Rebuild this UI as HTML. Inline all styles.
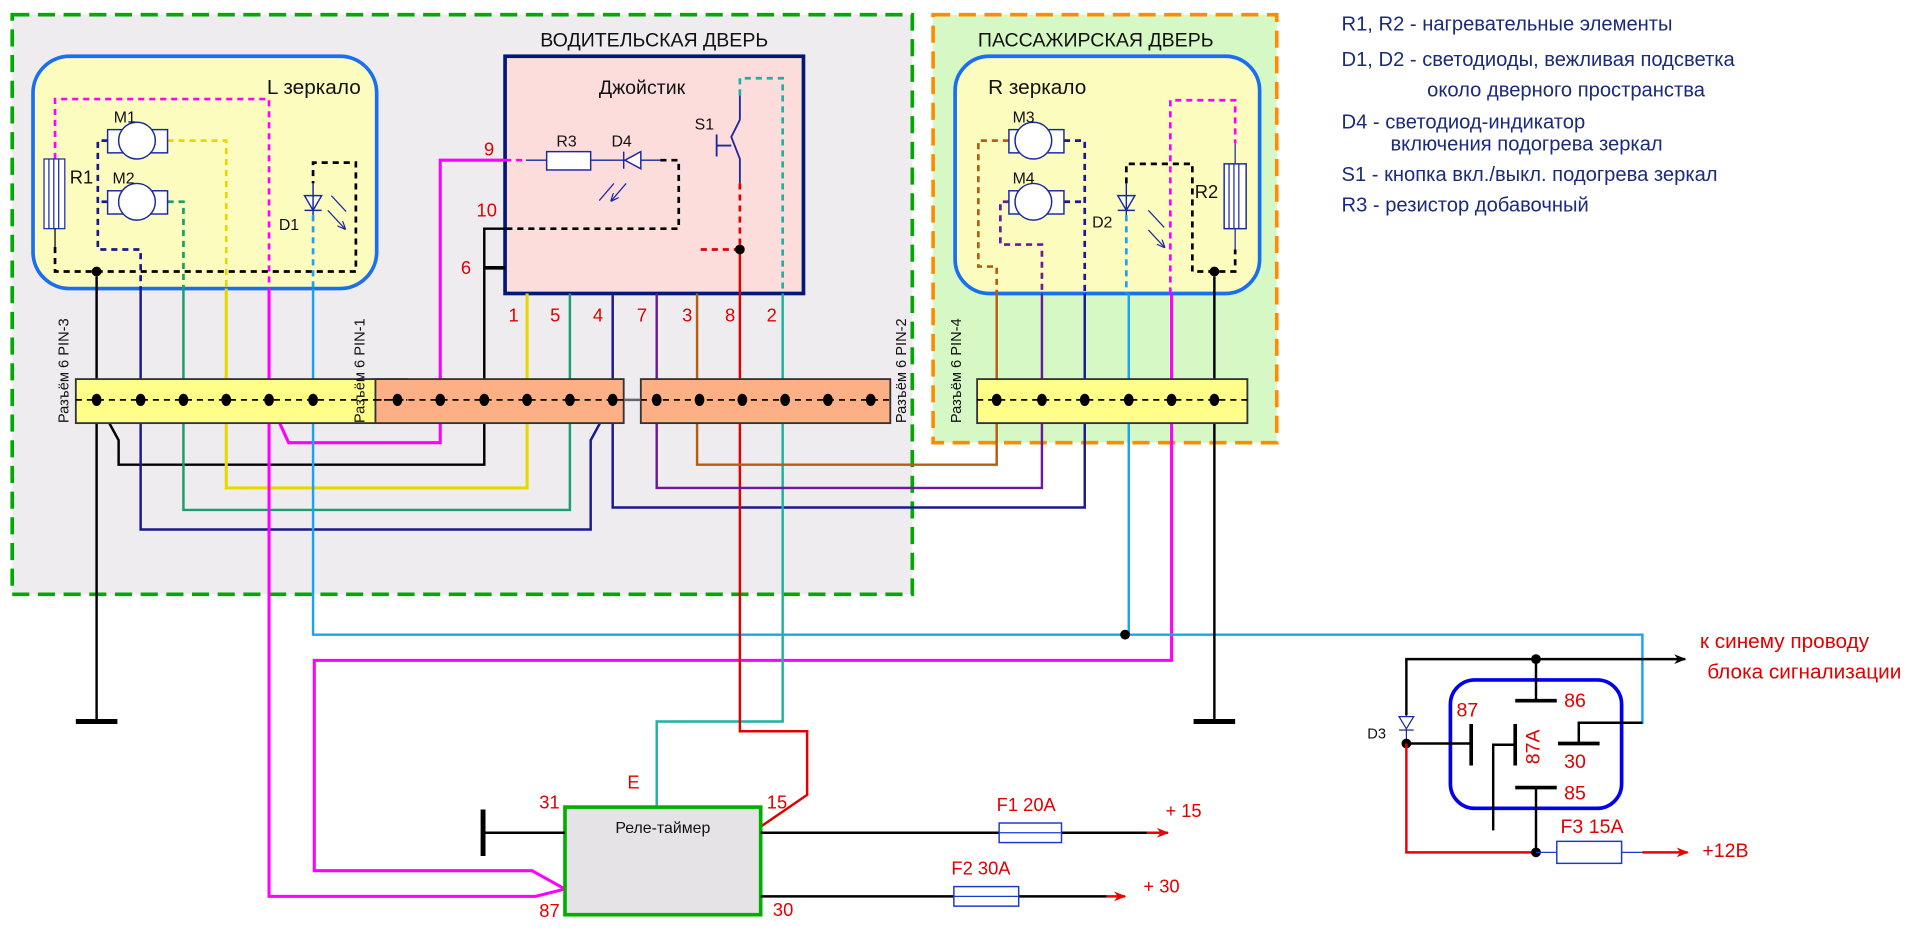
<!DOCTYPE html>
<html><head><meta charset="utf-8"><style>
html,body{margin:0;padding:0;background:#fff;overflow:hidden}
svg{display:block}
text{font-family:"Liberation Sans",sans-serif}
</style></head><body>
<svg width="1920" height="930" viewBox="0 0 1570 760.5" preserveAspectRatio="none" xmlns="http://www.w3.org/2000/svg">
<defs>
<marker id="ab" markerWidth="10" markerHeight="8" refX="9" refY="4" orient="auto" markerUnits="userSpaceOnUse"><path d="M0,0 L10,4 L0,8 L3,4z" fill="#000"/></marker>
<marker id="ar" markerWidth="10" markerHeight="8" refX="9" refY="4" orient="auto" markerUnits="userSpaceOnUse"><path d="M0,0 L10,4 L0,8 L3,4z" fill="#e00"/></marker>
<marker id="an" markerWidth="7" markerHeight="6" refX="6" refY="3" orient="auto" markerUnits="userSpaceOnUse"><path d="M0,0 L7,3 L0,6" fill="none" stroke="#1a2a9c" stroke-width="1"/></marker>
</defs>

<rect x="10" y="12" width="736" height="474" fill="#eeecef" stroke="#00aa00" stroke-width="3" stroke-dasharray="14,7"/>
<rect x="763" y="12" width="281" height="350" fill="#d5f8c5" stroke="#ff8c00" stroke-width="3" stroke-dasharray="14,7"/>
<text x="535" y="38" font-size="16" text-anchor="middle" fill="#111">ВОДИТЕЛЬСКАЯ ДВЕРЬ</text>
<text x="896" y="38" font-size="16" text-anchor="middle" fill="#111">ПАССАЖИРСКАЯ ДВЕРЬ</text>

<rect x="27" y="46" width="281" height="190" rx="30" fill="#fdfcbf" stroke="#1a6ff0" stroke-width="3"/>
<text x="295" y="77" font-size="17" text-anchor="end" fill="#111">L зеркало</text>
<rect x="781" y="46" width="249" height="194" rx="28" fill="#fdfcbf" stroke="#1a6ff0" stroke-width="3"/>
<text x="808" y="77" font-size="17" fill="#111">R зеркало</text>

<rect x="413" y="46" width="244" height="194" fill="#fddcdc" stroke="#001a73" stroke-width="3"/>
<text x="525" y="77" font-size="16" text-anchor="middle" fill="#111">Джойстик</text>

<g fill="none" stroke-width="2">
<path d="M79,226 V590" stroke="#000"/>
<path d="M79,327 L97,360 V380 H396 V187 H413" stroke="#000"/>
<path d="M396,219 H413" stroke="#000" stroke-width="3"/>
<path d="M115,236 V433 H483 V360 L501,327" stroke="#1a1a8c"/>
<path d="M501,240 V415 H887 V240" stroke="#1a1a8c"/>
<path d="M150,236 V417 H466 V240" stroke="#1a9e6e"/>
<path d="M185,236 V399 H431 V240" stroke="#e8d800" stroke-width="2.5"/>
<path d="M220,236 V733 H438 L462,727" stroke="#ff00ff" stroke-width="2.5"/>
<path d="M220,327 L236,362 H360 V131 H413" stroke="#ff00ff" stroke-width="2.5"/>
<path d="M958,240 V540 H257 V712 H435 L462,727" stroke="#ff00ff" stroke-width="2.5"/>
<path d="M256,236 V519 H1343 V591 H1291 V608" stroke="#1aa3f0" stroke-width="2"/>
<path d="M923,240 V519" stroke="#1aa3f0"/>
<path d="M640,240 V590 H537 V660" stroke="#20b0a0"/>
<path d="M605,204 V598 H660 V650 L622,676" stroke="#e00000"/>
<path d="M570,240 V380 H815 V240" stroke="#b85c10"/>
<path d="M537,240 V399 H852 V240" stroke="#6a1a9a"/>
<path d="M993,226 V590" stroke="#000"/>
</g>
<circle cx="920" cy="519" r="4" fill="#000"/>
<path d="M62,590 H96 M976,590 H1010" stroke="#000" stroke-width="4"/>

<g stroke="#333" stroke-width="1.5">
<rect x="62" y="310" width="271" height="36" fill="#fefe88"/>
<rect x="307" y="310" width="203" height="36" fill="#fdb085"/>
<rect x="524" y="310" width="204" height="36" fill="#fdb085"/>
<rect x="799" y="310" width="221" height="36" fill="#fefe88"/>
</g>
<path d="M510,327 H524" stroke="#666" stroke-width="2"/>
<g stroke="#000" stroke-width="1.5" stroke-dasharray="5,4">
<path d="M62,327 H333 M307,327 H510 M524,327 H728 M799,327 H1020"/>
</g>
<g fill="#000">
<ellipse cx="79" cy="327" rx="4" ry="5"/><ellipse cx="115" cy="327" rx="4" ry="5"/><ellipse cx="150" cy="327" rx="4" ry="5"/><ellipse cx="185" cy="327" rx="4" ry="5"/><ellipse cx="220" cy="327" rx="4" ry="5"/><ellipse cx="256" cy="327" rx="4" ry="5"/>
<ellipse cx="325" cy="327" rx="4" ry="5"/><ellipse cx="360" cy="327" rx="4" ry="5"/><ellipse cx="396" cy="327" rx="4" ry="5"/><ellipse cx="431" cy="327" rx="4" ry="5"/><ellipse cx="466" cy="327" rx="4" ry="5"/><ellipse cx="501" cy="327" rx="4" ry="5"/>
<ellipse cx="537" cy="327" rx="4" ry="5"/><ellipse cx="572" cy="327" rx="4" ry="5"/><ellipse cx="607" cy="327" rx="4" ry="5"/><ellipse cx="642" cy="327" rx="4" ry="5"/><ellipse cx="677" cy="327" rx="4" ry="5"/><ellipse cx="712" cy="327" rx="4" ry="5"/>
<ellipse cx="815" cy="327" rx="4" ry="5"/><ellipse cx="852" cy="327" rx="4" ry="5"/><ellipse cx="887" cy="327" rx="4" ry="5"/><ellipse cx="923" cy="327" rx="4" ry="5"/><ellipse cx="958" cy="327" rx="4" ry="5"/><ellipse cx="993" cy="327" rx="4" ry="5"/>
</g>
<g font-size="12" fill="#111">
<text transform="translate(56,346) rotate(-90)">Разъём 6 PIN-3</text>
<text transform="translate(298,346) rotate(-90)">Разъём 6 PIN-1</text>
<text transform="translate(741,346) rotate(-90)">Разъём 6 PIN-2</text>
<text transform="translate(786,346) rotate(-90)">Разъём 6 PIN-4</text>
</g>

<g font-size="15" fill="#e00000" text-anchor="middle">
<text x="420" y="263">1</text><text x="454" y="263">5</text><text x="489" y="263">4</text><text x="525" y="263">7</text><text x="562" y="263">3</text><text x="597" y="263">8</text><text x="631" y="263">2</text>
<text x="400" y="127">9</text><text x="398" y="177">10</text><text x="381" y="224">6</text>
</g>

<g fill="none" stroke-width="2.2" stroke-dasharray="5,4">
<path d="M45,130 V81 H220 V236" stroke="#ff00ff"/>
<path d="M88,115 H80 V204 H115 V236 M88,165 H80" stroke="#1a1a8c"/>
<path d="M137,115 H185 V236" stroke="#e8d800"/>
<path d="M137,165 H150 V236" stroke="#1a9e6e"/>
<path d="M45,202 V222 H291 V133 H256 V150" stroke="#000"/>
<path d="M256,176 V236" stroke="#1aa3f0"/>
</g>
<rect x="36" y="130" width="17" height="57" fill="#fff" stroke="#1a2a9c" stroke-width="1"/>
<path d="M40,130 V187 M44,130 V187 M48,130 V187" stroke="#1a2a9c" stroke-width="1"/>
<path d="M45,187 V202" stroke="#000" stroke-width="1"/>
<circle cx="79" cy="222" r="4" fill="#000"/>
<text x="57" y="150" font-size="15" fill="#111">R1</text>
<g stroke="#1a2a9c" stroke-width="1.2" fill="#fff">
<rect x="88" y="106" width="49" height="19"/><ellipse cx="112" cy="115" rx="15" ry="15"/>
<rect x="88" y="156" width="49" height="19"/><ellipse cx="112" cy="165" rx="15" ry="15"/>
<path d="M249,160 L263,160 L256,172 Z"/><path d="M249,172 H263 M256,150 V176" fill="none"/>
</g>
<text x="93" y="100" font-size="13" fill="#111">M1</text>
<text x="92" y="150" font-size="13" fill="#111">M2</text>
<text x="228" y="188" font-size="13" fill="#111">D1</text>
<path d="M271,160 L283,173 M268,172 L282,187" stroke="#1a2a9c" stroke-width="1" marker-end="url(#an)"/>

<path d="M413,131 H430" stroke="#ff00ff" stroke-width="2.2" stroke-dasharray="5,4"/>
<path d="M430,131 H447 M483,131 H524 M510,124 V138 M524,131 H540" stroke="#1a2a9c" stroke-width="1.2" fill="none"/>
<rect x="447" y="124" width="36" height="15" fill="#fff" stroke="#1a2a9c" stroke-width="1.2"/>
<path d="M524,124 L524,138 L511,131 Z" fill="#fff" stroke="#1a2a9c" stroke-width="1.2"/>
<text x="455" y="120" font-size="13" fill="#111">R3</text>
<text x="500" y="120" font-size="13" fill="#111">D4</text>
<path d="M502,150 L490,164 M512,150 L500,164" stroke="#1a2a9c" stroke-width="1" marker-end="url(#an)"/>
<path d="M540,131 H555 V187 H413" stroke="#000" stroke-width="2.2" fill="none" stroke-dasharray="5,4"/>
<text x="568" y="106" font-size="13" fill="#111">S1</text>
<path d="M605,78 V98 M605,98 L598,112 L605,130 V150 M586,110 V128 M586,119 H598" stroke="#1a2a9c" stroke-width="1.5" fill="none"/>
<path d="M605,78 V64 H640 V240" stroke="#20b0a0" stroke-width="2.2" fill="none" stroke-dasharray="5,4"/>
<path d="M605,150 V204 H570" stroke="#e00000" stroke-width="2.2" fill="none" stroke-dasharray="5,4"/>
<circle cx="605" cy="204" r="4" fill="#000"/>

<g fill="none" stroke-width="2.2" stroke-dasharray="5,4">
<path d="M825,115 H800 V218 H815 V240" stroke="#b85c10"/>
<path d="M825,165 H818 V200 H852 V240" stroke="#6a1a9a"/>
<path d="M870,115 H887 V240 M870,165 H887" stroke="#1a1a8c"/>
<path d="M921,150 V134 H975 V222 H1010 V204" stroke="#000"/>
<path d="M957,240 V82 H1010 V117" stroke="#ff00ff"/>
<path d="M921,176 V240" stroke="#1aa3f0"/>
</g>
<g stroke="#1a2a9c" stroke-width="1.2" fill="#fff">
<rect x="825" y="106" width="45" height="19"/><ellipse cx="845" cy="115" rx="15" ry="15"/>
<rect x="825" y="156" width="45" height="19"/><ellipse cx="845" cy="165" rx="15" ry="15"/>
<path d="M914,160 L928,160 L921,172 Z"/><path d="M914,172 H928 M921,150 V176" fill="none"/>
<rect x="1001" y="134" width="18" height="53"/>
</g>
<path d="M1005,134 V187 M1009,134 V187 M1013,134 V187 M1010,117 V134 M1010,187 V204" stroke="#1a2a9c" stroke-width="1"/>
<circle cx="993" cy="222" r="4" fill="#000"/>
<text x="828" y="100" font-size="13" fill="#111">M3</text>
<text x="828" y="150" font-size="13" fill="#111">M4</text>
<text x="893" y="186" font-size="13" fill="#111">D2</text>
<text x="977" y="162" font-size="15" fill="#111">R2</text>
<path d="M939,172 L952,186 M939,188 L952,202" stroke="#1a2a9c" stroke-width="1" marker-end="url(#an)"/>

<g font-size="16.5" fill="#1a2a7c">
<text x="1097" y="25">R1, R2 - нагревательные элементы</text>
<text x="1097" y="54">D1, D2 - светодиоды, вежливая подсветка</text>
<text x="1167" y="79">около дверного пространства</text>
<text x="1097" y="105">D4 - светодиод-индикатор</text>
<text x="1137" y="123">включения подогрева зеркал</text>
<text x="1097" y="148">S1 - кнопка вкл./выкл. подогрева зеркал</text>
<text x="1097" y="173">R3 - резистор добавочный</text>
</g>

<rect x="462" y="660" width="160" height="88" fill="#e5e3e6" stroke="#00b000" stroke-width="3"/>
<text x="542" y="681" font-size="13" text-anchor="middle" fill="#111">Реле-таймер</text>
<path d="M395,662 V700" stroke="#000" stroke-width="4"/>
<path d="M395,681 H462" stroke="#000" stroke-width="2"/>
<g font-size="15" fill="#e00000">
<text x="441" y="661">31</text><text x="513" y="645">E</text><text x="627" y="661">15</text>
<text x="441" y="750">87</text><text x="632" y="749">30</text>
<text x="815" y="663">F1 20A</text><text x="953" y="668">+ 15</text>
<text x="778" y="715">F2 30A</text><text x="935" y="730">+ 30</text>
</g>
<path d="M622,681 H817 M868,681 H938" stroke="#000" stroke-width="2"/>
<path d="M938,681 H955" stroke="#e00" stroke-width="2" marker-end="url(#ar)"/>
<rect x="817" y="673" width="51" height="16" fill="#fff" stroke="#1a3ac8" stroke-width="1.2"/>
<path d="M817,681 H868" stroke="#1a3ac8" stroke-width="1"/>
<path d="M622,733 H780 M833,733 H905" stroke="#000" stroke-width="2"/>
<path d="M905,733 H920" stroke="#e00" stroke-width="2" marker-end="url(#ar)"/>
<rect x="780" y="725" width="53" height="16" fill="#fff" stroke="#1a3ac8" stroke-width="1.2"/>
<path d="M780,733 H833" stroke="#1a3ac8" stroke-width="1"/>

<rect x="1186" y="556" width="140" height="105" rx="20" fill="none" stroke="#0000ee" stroke-width="3"/>
<path d="M1150,585 V539 H1378" stroke="#000" stroke-width="2" fill="none" marker-end="url(#ab)"/>
<circle cx="1256" cy="539" r="4" fill="#000"/>
<path d="M1256,539 V573 M1256,644 V697 M1150,608 H1203 M1221,679 V609 H1239 M1291,608 V591 H1343" stroke="#000" stroke-width="2" fill="none"/>
<path d="M1239,573 H1273 M1239,644 H1273 M1203,592 V626 M1239,592 V626 M1274,608 H1308" stroke="#000" stroke-width="3"/>
<path d="M1150,585 V608" stroke="#1a2a9c" stroke-width="1"/>
<path d="M1144,586 H1156 L1150,596 Z" fill="#fff" stroke="#1a2a9c" stroke-width="1"/>
<path d="M1144,597 H1156" stroke="#1a2a9c" stroke-width="1"/>
<text x="1118" y="604" font-size="12" fill="#111">D3</text>
<circle cx="1150" cy="608" r="4" fill="#000"/>
<path d="M1150,608 V697 H1256" stroke="#e00" stroke-width="2" fill="none"/>
<circle cx="1256" cy="697" r="4" fill="#000"/>
<path d="M1256,697 H1273 M1326,697 H1343" stroke="#1a3ac8" stroke-width="1"/>
<rect x="1273" y="688" width="53" height="18" fill="#fff" stroke="#1a3ac8" stroke-width="1.2"/>
<path d="M1343,697 H1380" stroke="#e00" stroke-width="2" marker-end="url(#ar)"/>
<g font-size="16" fill="#e00000">
<text x="1191" y="586">87</text><text x="1279" y="578">86</text><text x="1279" y="628">30</text><text x="1279" y="654">85</text>
<text transform="translate(1259,625) rotate(-90)">87A</text>
<text x="1276" y="681">F3 15A</text>
<text x="1392" y="701" font-size="16">+12В</text>
<text x="1390" y="530" font-size="17">к синему проводу</text>
<text x="1396" y="555" font-size="17">блока сигнализации</text>
</g>
</svg>
</body></html>
